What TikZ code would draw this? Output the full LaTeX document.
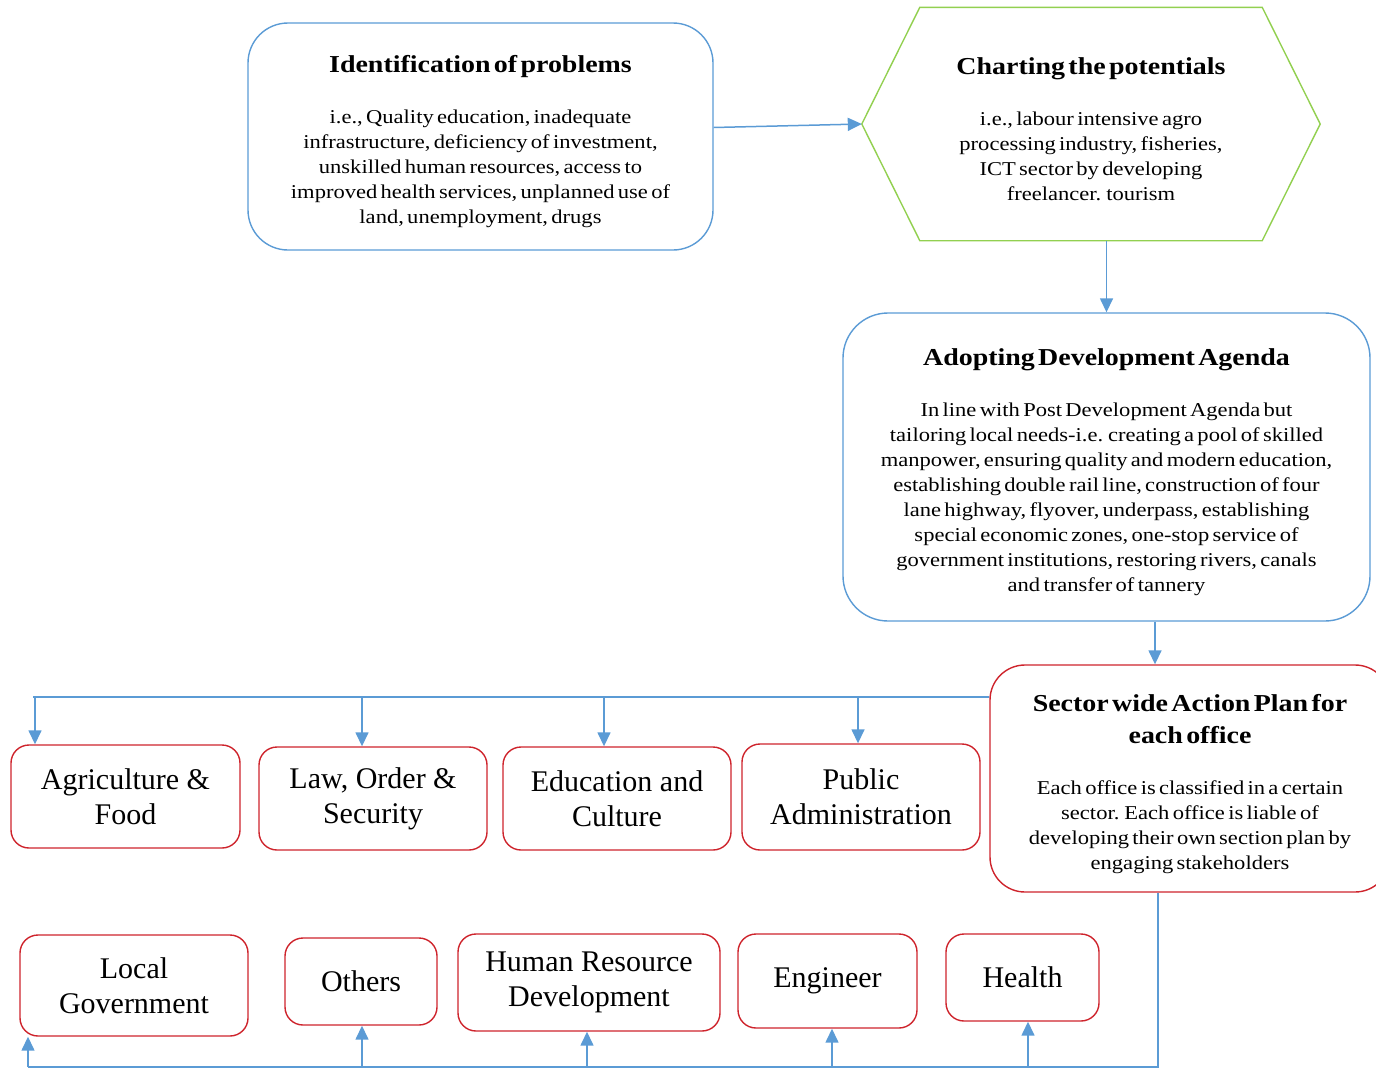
\documentclass[tikz,border=0pt]{standalone}
\usepackage{fontspec}
\setmainfont{Liberation Serif}
\newfontfamily\widefont[FakeStretch=1.15]{Liberation Serif}
\usetikzlibrary{arrows.meta, positioning}
\definecolor{lineblue}{RGB}{91,155,213}
\definecolor{boxred}{RGB}{206,36,44}
\definecolor{hexgreen}{RGB}{146,208,80}
\newcommand{\headtxt}{\widefont\fontsize{24.3}{32}\selectfont\bfseries}
\newcommand{\bodytxt}{\widefont\fontsize{19.6}{25}\selectfont}
\newcommand{\boxhead}[1]{{\headtxt\rule{0pt}{28pt}#1\par}\vspace{26pt}}
\tikzstyle{bluebox} = [rectangle, draw=lineblue, line width=1.4pt, rounded corners=40pt, align=center, inner sep=0pt]
\tikzstyle{hexbox} = [rectangle, align=center, inner sep=0pt, minimum width=458pt, minimum height=233pt]
\tikzstyle{redbox} = [rectangle, draw=boxred, line width=1.4pt, rounded corners=18pt, align=center, inner sep=0pt, font=\fontsize{30}{35}\selectfont]
\tikzstyle{line} = [draw=lineblue, line width=1.5pt]
\tikzstyle{link} = [line, -{Triangle[length=14pt,width=13pt]}]

\begin{document}
\begin{tikzpicture}[x=1pt, y=-1pt]
    \useasboundingbox (0,0) rectangle (1376,1071);

    % top chain
    \node[bluebox, minimum width=465pt, minimum height=227pt, text width=450pt] (prob) at (480.5,136.5)
        {\boxhead{Identification of problems}
         {\bodytxt i.e., Quality education, inadequate\\ infrastructure, deficiency of investment,\\ unskilled human resources, access to\\ improved health services, unplanned use of\\ land, unemployment, drugs\par}};
    \node[hexbox, text width=420pt] (pot) at (1091,124)
        {\boxhead{Charting the potentials}
         {\bodytxt i.e., labour intensive agro\\ processing industry, fisheries,\\ ICT sector by developing\\ freelancer. tourism\par}};
    \draw[hexgreen, line width=1.4pt] (pot.west) -- ([xshift=58pt]pot.north west) -- ([xshift=-58pt]pot.north east)
        -- (pot.east) -- ([xshift=-58pt]pot.south east) -- ([xshift=58pt]pot.south west) -- cycle;
    \node[bluebox, rounded corners=45pt, minimum width=527pt, minimum height=308pt, text width=515pt] (agenda) at (1106.5,467)
        {\boxhead{Adopting Development Agenda}
         {\bodytxt In line with Post Development Agenda but\\ tailoring local needs-i.e. creating a pool of skilled\\ manpower, ensuring quality and modern education,\\ establishing double rail line, construction of four\\ lane highway, flyover, underpass, establishing\\ special economic zones, one-stop service of\\ government institutions, restoring rivers, canals\\ and transfer of tannery\par}};
    \node[redbox, rounded corners=35pt, minimum width=400pt, minimum height=227pt, text width=390pt, font=\normalsize] (sector) at (1190,778.5)
        {\boxhead{Sector wide Action Plan for\\ each office}
         {\bodytxt Each office is classified in a certain\\ sector. Each office is liable of\\ developing their own section plan by\\ engaging stakeholders\par}};

    % offices
    \node[redbox, minimum width=229pt, minimum height=103pt] (agri) at (125.5,796.5) {Agriculture \&\\ Food};
    \node[redbox, minimum width=228pt, minimum height=103pt] (law) at (373,798.5) {Law, Order \&\\ Security};
    \node[redbox, minimum width=228pt, minimum height=103pt] (edu) at (617,798.5) {Education and\\ Culture};
    \node[redbox, minimum width=238pt, minimum height=106pt] (pub) at (861,797) {Public\\ Administration};

    \node[redbox, minimum width=228pt, minimum height=101pt] (local) at (134,985.5) {Local\\ Government};
    \node[redbox, minimum width=152pt, minimum height=87pt] (others) at (361,981.5) {Others};
    \node[redbox, minimum width=262pt, minimum height=97pt] (hrd) at (589,982.5) {Human Resource\\ Development};
    \node[redbox, minimum width=179pt, minimum height=94pt] (eng) at (827.5,981) {Engineer};
    \node[redbox, minimum width=153pt, minimum height=87pt] (health) at (1022.5,977.5) {Health};

    % arrows
    \path[link] ([yshift=9pt]prob.east) -- (pot.west);
    \path[link] (pot.south -| agenda.north) -- (agenda.north);
    \coordinate (down) at (1155,640);
    \path[link] (down |- agenda.south) -- (down |- sector.north);

    \coordinate (tbL) at (33,697);
    \path[line] (tbL -| sector.west) -- (tbL);
    \foreach \bx/\office in {35/agri, 362/law, 604/edu, 858/pub}{
        \coordinate (tb) at (\bx,697);
        \path[link] (tb) -- (tb |- \office.north);
    }

    \coordinate (bbR) at (1158,1067);
    \coordinate (bbL) at (28,1067);
    \path[line] (bbR |- sector.south) -- (bbR) -- (bbL);
    \foreach \bx/\office in {28/local, 362/others, 587/hrd, 832/eng, 1028/health}{
        \coordinate (bb) at (\bx,1067);
        \path[link] (bb) -- (bb |- \office.south);
    }
\end{tikzpicture}
\end{document}
